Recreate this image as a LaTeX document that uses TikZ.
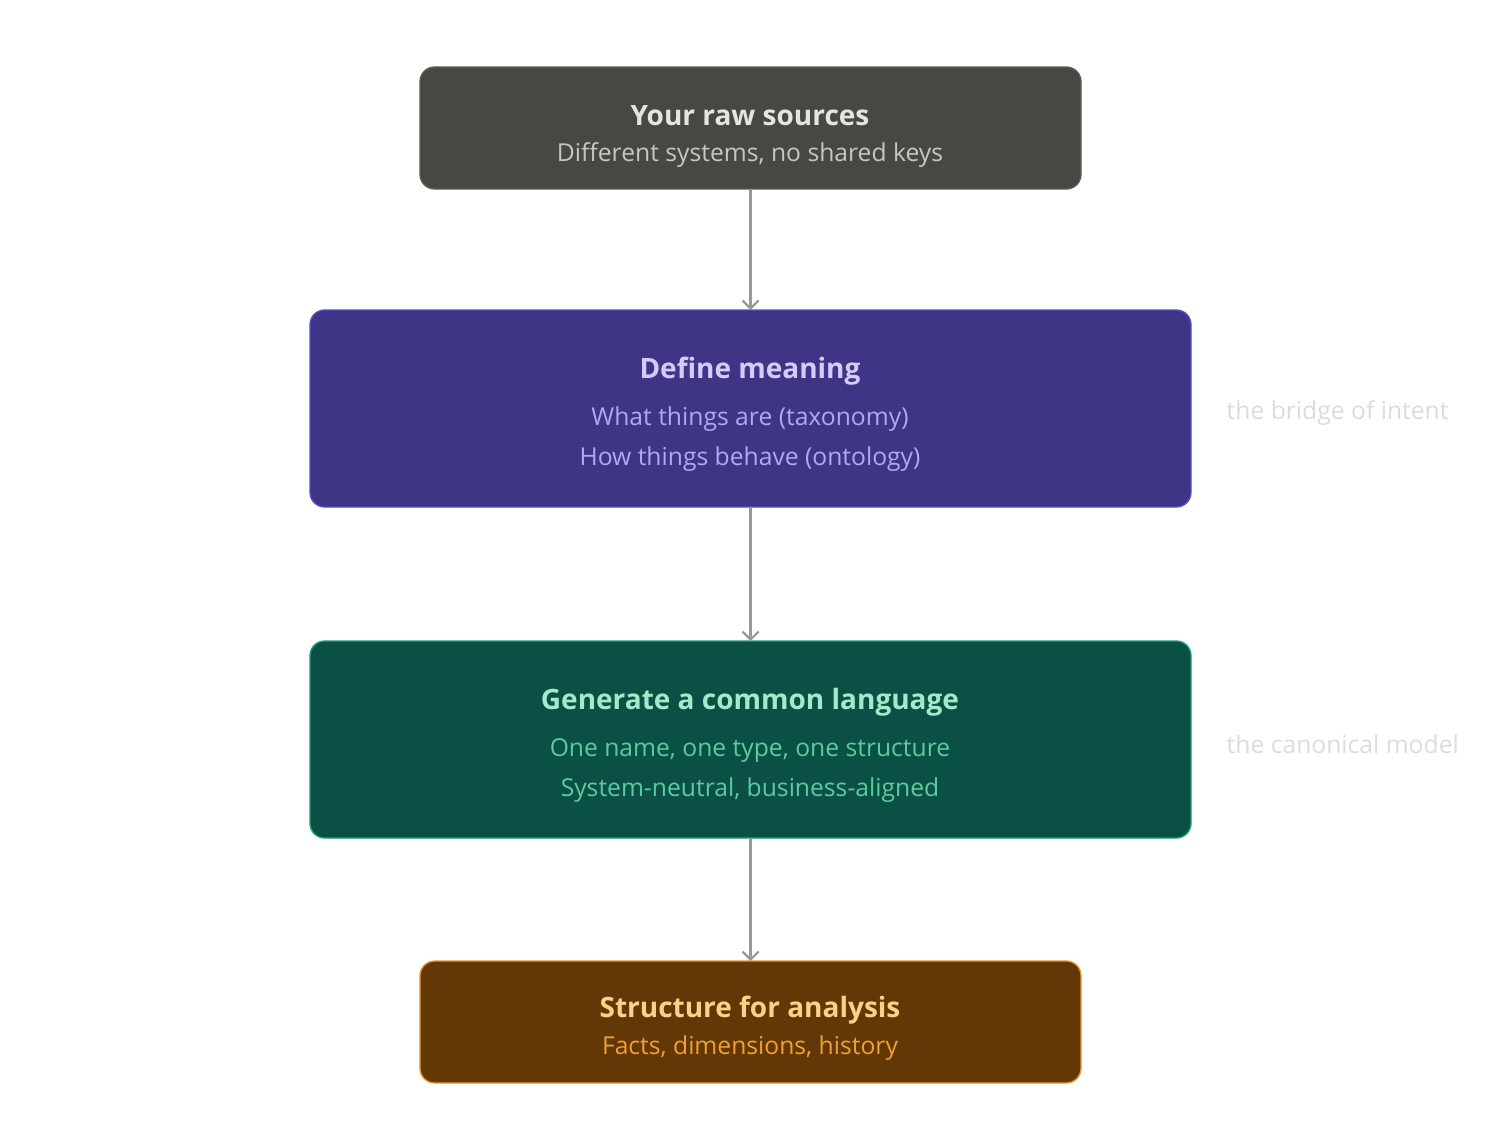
\documentclass[tikz,border=0pt]{standalone}
\usepackage{fontspec}
\setmainfont{Open Sans}
\usetikzlibrary{arrows.meta}
\definecolor{graybox}{HTML}{484843}
\definecolor{grayedge}{HTML}{5C5C57}
\definecolor{graytitle}{HTML}{E6E4DE}
\definecolor{graysub}{HTML}{C8C6BF}
\definecolor{purplebox}{HTML}{3E3587}
\definecolor{purpleedge}{HTML}{5A4FC0}
\definecolor{purpletitle}{HTML}{D2CCF8}
\definecolor{purplesub}{HTML}{B0A8F2}
\definecolor{greenbox}{HTML}{0A5044}
\definecolor{greenedge}{HTML}{1D9E75}
\definecolor{greentitle}{HTML}{A2EACB}
\definecolor{greensub}{HTML}{5DCAA0}
\definecolor{brownbox}{HTML}{633806}
\definecolor{brownedge}{HTML}{E69A2A}
\definecolor{browntitle}{HTML}{FAD08A}
\definecolor{brownsub}{HTML}{EFA030}
\definecolor{arrowgray}{HTML}{9A9A95}
\definecolor{sidegray}{HTML}{DEDCD6}
\begin{document}
\begin{tikzpicture}[x=0.75pt,y=-0.75pt,
  box/.style={rounded corners=11pt, line width=1pt},
  ttl/.style={font=\fontsize{21}{25}\selectfont\bfseries},
  sub/.style={font=\fontsize{18.5}{22}\selectfont},
  side/.style={font=\fontsize{18.5}{22}\selectfont, text=sidegray, anchor=west},
  conn/.style={draw=arrowgray, line width=1.6pt, -{Straight Barb[length=6pt,width=12pt]}}]
\useasboundingbox (0,0) rectangle (1500,1147);
\fill[white] (0,0) rectangle (1500,1147);
% boxes
\draw[box, fill=graybox, draw=grayedge] (420,67) rectangle (1081,189);
\node[inner sep=0, outer sep=0] (src) at (750.5,128) [minimum width=661*0.75pt, minimum height=122*0.75pt] {};
\draw[box, fill=purplebox, draw=purpleedge] (310,310) rectangle (1191,507);
\node[inner sep=0, outer sep=0] (mean) at (750.5,408.5) [minimum width=881*0.75pt, minimum height=197*0.75pt] {};
\draw[box, fill=greenbox, draw=greenedge] (310,641) rectangle (1191,838);
\node[inner sep=0, outer sep=0] (lang) at (750.5,739.5) [minimum width=881*0.75pt, minimum height=197*0.75pt] {};
\draw[box, fill=brownbox, draw=brownedge] (420,961) rectangle (1081,1083);
\node[inner sep=0, outer sep=0] (ana) at (750.5,1022) [minimum width=661*0.75pt, minimum height=122*0.75pt] {};
% texts
\node[ttl, text=graytitle] (t1) at (750,116) {Your raw sources};
\node[sub, text=graysub] (s1) at (750,155) {Different systems, no shared keys};
\node[ttl, text=purpletitle] (t2) at (750,371) {Define meaning};
\node[sub, text=purplesub] (s2a) at (750,419) {What things are (taxonomy)};
\node[sub, text=purplesub] (s2b) at (750,459) {How things behave (ontology)};
\node[ttl, text=greentitle] (t3) at (750,702) {Generate a common language};
\node[sub, text=greensub] (s3a) at (750,751) {One name, one type, one structure};
\node[sub, text=greensub] (s3b) at (750,790) {System-neutral, business-aligned};
\node[ttl, text=browntitle] (t4) at (750,1010) {Structure for analysis};
\node[sub, text=brownsub] (s4) at (750,1048) {Facts, dimensions, history};
\node[side] (l1) at (1222,413) {the bridge of intent};
\node[side] (l2) at (1222,744) {the canonical model};
% connectors
\draw[conn] (src.south) -- (mean.north);
\draw[conn] (mean.south) -- (lang.north);
\draw[conn] (lang.south) -- (ana.north);
\end{tikzpicture}
\end{document}
